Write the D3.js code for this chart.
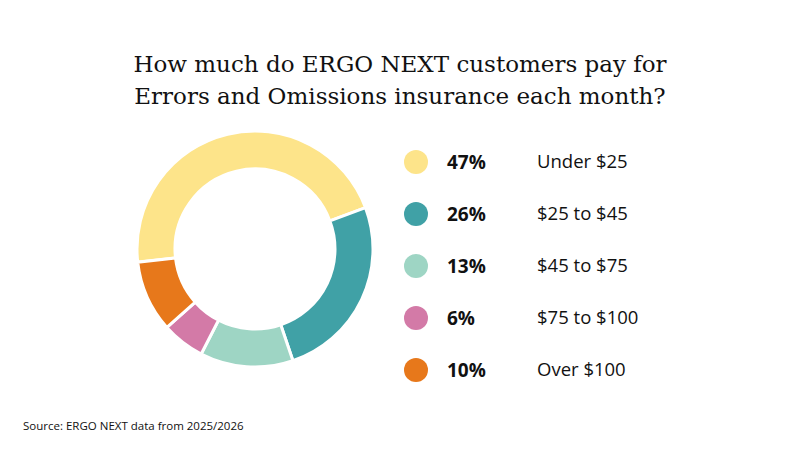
<!DOCTYPE html>
<meta charset="utf-8">
<script src="https://cdn.jsdelivr.net/npm/d3@7/dist/d3.min.js"></script>
<style>
  body { margin: 0; background: #fff; }
</style>
<body>
<script>

// Chart data
var categories = ["Under $25", "$25 to $45", "$45 to $75", "$75 to $100", "Over $100"];
var shares = [47, 26, 13, 6, 10];
var colors = ["#fde48a", "#40a1a6", "#9ed5c4", "#d37aa7", "#e7781b"];
var titleLines = ["How much do ERGO NEXT customers pay for",
                  "Errors and Omissions insurance each month?"];
var sourceText = "Source: ERGO NEXT data from 2025/2026";

var width = 802, height = 454;

var svg = d3.select("body").append("svg")
    .attr("width", width)
    .attr("height", height);

// Title
svg.append("g").selectAll("text")
    .data(titleLines)
  .enter().append("text")
    .attr("x", 400)
    .attr("y", function(d, i) { return 72 + i * 32; })
    .attr("text-anchor", "middle")
    .attr("font-family", "DejaVu Serif, serif")
    .attr("font-size", "23px")
    .attr("fill", "#111")
    .text(function(d) { return d; });

// Donut
var data = categories.map(function(c, i) { return {label: c, value: shares[i], color: colors[i]}; });

var pie = d3.pie()
    .sort(null)
    .value(function(d) { return d.value; })
    .startAngle(-96.4 * Math.PI / 180)
    .endAngle((360 - 96.4) * Math.PI / 180);

var arc = d3.arc()
    .innerRadius(80)
    .outerRadius(118);

var donut = svg.append("g")
    .attr("transform", "translate(255,249)");

donut.selectAll("path")
    .data(pie(data))
  .enter().append("path")
    .attr("d", arc)
    .attr("fill", function(d) { return d.data.color; })
    .attr("stroke", "#fff")
    .attr("stroke-width", 3);

// Legend
var y = d3.scalePoint()
    .domain(categories)
    .range([162, 370]);

var legend = svg.append("g").selectAll("g")
    .data(data)
  .enter().append("g")
    .attr("transform", function(d) { return "translate(0," + y(d.label) + ")"; });

legend.append("circle")
    .attr("cx", 416)
    .attr("r", 12)
    .attr("fill", function(d) { return d.color; });

legend.append("text")
    .attr("x", 447)
    .attr("dy", "0.35em")
    .attr("font-family", "Open Sans, sans-serif")
    .attr("font-weight", "bold")
    .attr("font-size", "19px")
    .attr("fill", "#111")
    .text(function(d) { return d.value + "%"; });

legend.append("text")
    .attr("x", 537)
    .attr("dy", "0.35em")
    .attr("font-family", "Open Sans, sans-serif")
    .attr("font-size", "18.5px")
    .attr("fill", "#111")
    .text(function(d) { return d.label; });

// Source
svg.append("text")
    .attr("x", 23)
    .attr("y", 430)
    .attr("font-family", "Open Sans, sans-serif")
    .attr("font-size", "11.5px")
    .attr("fill", "#111")
    .text(sourceText);

</script>
</body>
</html>
